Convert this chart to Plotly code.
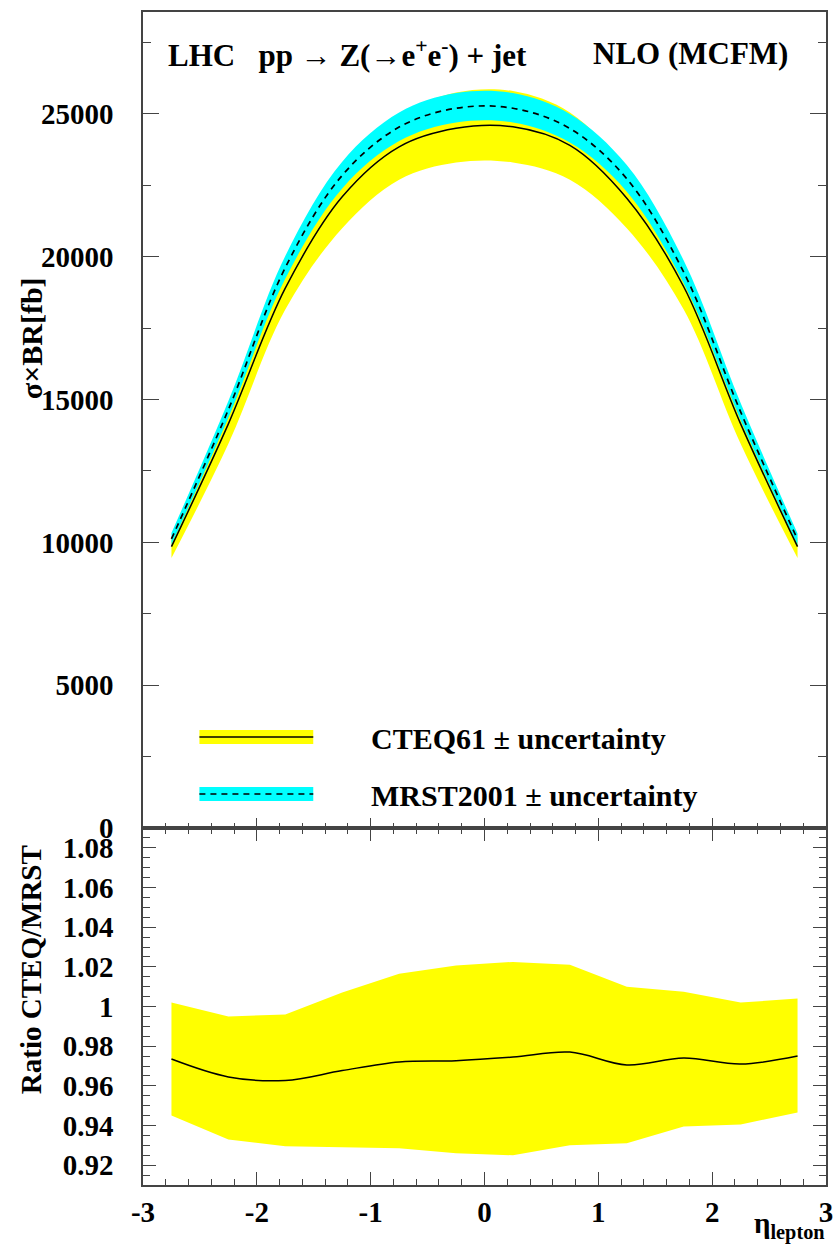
import plotly.graph_objects as go

# ---- data ----
eta = [-2.75, -2.25, -1.75, -1.25, -0.75, -0.25, 0.25, 0.75, 1.25, 1.75, 2.25, 2.75]

cteq_central = [9850, 14150, 18900, 22100, 23850, 24500, 24550, 23900, 22050, 18950, 14150, 9850]
cteq_hi = [10150, 14700, 19650, 23050, 24950, 25750, 25800, 25050, 23000, 19700, 14700, 10150]
cteq_lo = [9450, 13450, 18150, 21000, 22700, 23300, 23300, 22700, 21000, 18150, 13450, 9450]

mrst_central = [10120, 14650, 19620, 22850, 24540, 25200, 25200, 24490, 22730, 19460, 14570, 10100]
mrst_hi = [10330, 14950, 20030, 23330, 25050, 25730, 25730, 25000, 23210, 19870, 14880, 10310]
mrst_lo = [9920, 14360, 19230, 22390, 24050, 24700, 24700, 24000, 22280, 19070, 14280, 9900]

ratio_central = [0.9735, 0.9645, 0.9627, 0.9677, 0.972, 0.9727, 0.9745, 0.977, 0.9705, 0.974, 0.971, 0.975]
ratio_hi = [1.002, 0.995, 0.996, 1.007, 1.0165, 1.0207, 1.0225, 1.021, 1.010, 1.0075, 1.002, 1.004]
ratio_lo = [0.945, 0.933, 0.9295, 0.929, 0.9285, 0.926, 0.925, 0.930, 0.931, 0.9395, 0.9405, 0.9465]

top_ticks = [0, 5000, 10000, 15000, 20000, 25000]
ratio_ticks = [0.92, 0.94, 0.96, 0.98, 1.0, 1.02, 1.04, 1.06, 1.08]
ratio_ticktext = ["0.92", "0.94", "0.96", "0.98", "1", "1.02", "1.04", "1.06", "1.08"]
x_ticks = [-3, -2, -1, 0, 1, 2, 3]
x_ticktext = ["-3", "-2", "-1", "0", "1", "2", "3"]

YELLOW = "#FFFF00"
CYAN = "#00FFFF"
FONT = "Liberation Serif"

fig = go.Figure()


def band(lo, hi, color, smooth):
    shape = "spline" if smooth else "linear"
    fig.add_trace(go.Scatter(x=eta, y=lo, mode="lines", line=dict(width=0, shape=shape),
                             xaxis="x2", yaxis="y2", showlegend=False, hoverinfo="skip"))
    fig.add_trace(go.Scatter(x=eta, y=hi, mode="lines", line=dict(width=0, shape=shape),
                             fill="tonexty", fillcolor=color,
                             xaxis="x2", yaxis="y2", showlegend=False, hoverinfo="skip"))


# top panel bands
band(cteq_lo, cteq_hi, YELLOW, True)
band(mrst_lo, mrst_hi, CYAN, True)
fig.add_trace(go.Scatter(x=eta, y=mrst_central, mode="lines",
                         line=dict(color="black", width=1.7, dash="6px,5px", shape="spline"),
                         xaxis="x2", yaxis="y2", showlegend=False))
fig.add_trace(go.Scatter(x=eta, y=cteq_central, mode="lines",
                         line=dict(color="black", width=1.5, shape="spline"),
                         xaxis="x2", yaxis="y2", showlegend=False))

# ratio panel
fig.add_trace(go.Scatter(x=eta + eta[::-1], y=ratio_hi + ratio_lo[::-1], fill="toself",
                         fillcolor=YELLOW, line=dict(width=0), mode="lines",
                         xaxis="x", yaxis="y", showlegend=False, hoverinfo="skip"))
fig.add_trace(go.Scatter(x=eta, y=ratio_central, mode="lines",
                         line=dict(color="black", width=1.5, shape="spline"),
                         xaxis="x", yaxis="y", showlegend=False))

W, H = 837, 1247
ML, MR, MT, MB = 143, 4, 12, 62
PW, PH = W - ML - MR, H - MT - MB
split = (1185 - 828) / PH


def px(xp):
    return (xp - ML) / PW


def py(yp):
    return (H - MB - yp) / PH


TICKFONT = dict(family=FONT, size=29, color="black", weight="bold")
axis_common = dict(showgrid=False, zeroline=False, linecolor="#444", linewidth=1.5,
                   ticks="inside", tickcolor="#444", tickwidth=1.2, tickfont=TICKFONT,
                   ticklabeloverflow="allow")

fig.update_layout(
    width=W, height=H,
    margin=dict(l=ML, r=MR, t=MT, b=MB),
    paper_bgcolor="white", plot_bgcolor="white",
    font=dict(family=FONT, color="black", weight="bold"),
    xaxis=dict(domain=[0, 1], range=[-3, 3], anchor="y", mirror="allticks",
               tickvals=x_ticks, ticktext=x_ticktext, ticklen=13, ticklabelstandoff=0,
               minor=dict(dtick=0.2, ticklen=6, ticks="inside", tickcolor="#444", tickwidth=1),
               **axis_common),
    yaxis=dict(domain=[0, split], range=[0.91, 1.09], anchor="x", mirror="allticks",
               tickvals=ratio_ticks, ticktext=ratio_ticktext, ticklen=13, ticklabelstandoff=22,
               minor=dict(dtick=0.005, tick0=0.9, ticklen=7, ticks="inside", tickcolor="#444", tickwidth=1),
               **axis_common),
    xaxis2=dict(domain=[0, 1], range=[-3, 3], anchor="y2", mirror=True, matches="x",
                tickvals=x_ticks, showticklabels=False, ticklen=10,
                minor=dict(dtick=0.2, ticklen=5, ticks="inside", tickcolor="#444", tickwidth=1),
                **axis_common),
    yaxis2=dict(domain=[split, 1], range=[0, 28570], anchor="x2", mirror="allticks",
                tickvals=top_ticks, ticktext=[str(v) for v in top_ticks], ticklen=16,
                ticklabelstandoff=22,
                minor=dict(dtick=2500, ticklen=8, ticks="inside", tickcolor="#444", tickwidth=1),
                **axis_common),
)


def f(size):
    return dict(family=FONT, size=size, color="black", weight="bold")


annotations = [
    dict(text="LHC   pp \u2192 Z(\u2192e<sup>+</sup>e<sup>-</sup>) + jet", x=px(166), y=py(54),
         xanchor="left", yanchor="middle", font=f(31)),
    dict(text="NLO (MCFM)", x=px(797), y=py(54), xanchor="right", yanchor="middle", font=f(31)),
    dict(text="\u03c3\u00d7BR[fb]", x=px(30), y=py(338), textangle=-90,
         xanchor="center", yanchor="middle", font=f(30)),
    dict(text="Ratio CTEQ/MRST", x=px(30), y=py(970), textangle=-90,
         xanchor="center", yanchor="middle", font=f(29)),
    dict(text="\u03b7<sub>lepton</sub>", x=px(796), y=1, xanchor="center", yanchor="bottom",
         font=f(29)),
    dict(text="CTEQ61 \u00b1 uncertainty", x=px(371), y=py(738), xanchor="left", yanchor="middle",
         font=f(30)),
    dict(text="MRST2001 \u00b1 uncertainty", x=px(371), y=py(795), xanchor="left", yanchor="middle",
         font=f(30)),
]
for a in annotations:
    a.update(xref="paper", yref="paper", showarrow=False)
# the eta label sits against the bottom edge of the page
annotations[4].update(y=py(1246), yanchor="bottom")
fig.update_layout(annotations=annotations)

shapes = [
    dict(type="rect", x0=px(200), x1=px(315), y0=py(744), y1=py(730), fillcolor=YELLOW, line=dict(width=0)),
    dict(type="line", x0=px(200), x1=px(315), y0=py(737), y1=py(737), line=dict(color="black", width=1.5)),
    dict(type="rect", x0=px(200), x1=px(315), y0=py(801), y1=py(787), fillcolor=CYAN, line=dict(width=0)),
    dict(type="line", x0=px(200), x1=px(315), y0=py(794), y1=py(794),
         line=dict(color="black", width=1.5, dash="6px,5px")),
]
for s in shapes:
    s.update(xref="paper", yref="paper")
fig.update_layout(shapes=shapes)

fig.write_html("out.html")
